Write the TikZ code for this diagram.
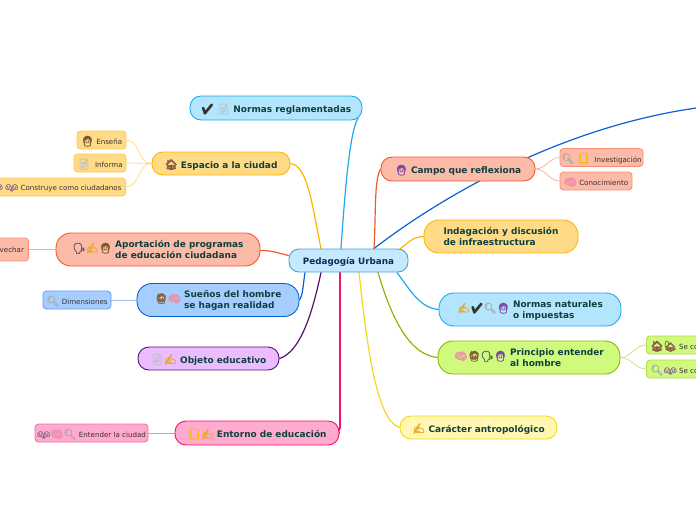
\documentclass[tikz,border=0pt]{standalone}
\usepackage{fontspec}
\setmainfont{DejaVu Sans}
\newfontfamily\emo[FakeBold=1.5]{Noto Emoji}
\usetikzlibrary{backgrounds}
\definecolor{tmain}{HTML}{0E3F3C}
\definecolor{troot}{HTML}{0C2C55}
\definecolor{tsub}{HTML}{3A3030}
\definecolor{fsky}{HTML}{B3E5FC}\definecolor{lsky}{HTML}{1EA9EE}
\definecolor{fora}{HTML}{FFDB88}\definecolor{lora}{HTML}{FFB400}
\definecolor{fred}{HTML}{FBBBA8}\definecolor{lred}{HTML}{F4582D}
\definecolor{fblu}{HTML}{A6CDFF}\definecolor{lblu}{HTML}{0A62D0}
\definecolor{fpur}{HTML}{EBBDFF}\definecolor{lpur}{HTML}{5A0F70}
\definecolor{fpin}{HTML}{FFAACF}\definecolor{lpin}{HTML}{F5106F}
\definecolor{fgre}{HTML}{D0FA7E}\definecolor{lgre}{HTML}{8DB600}
\definecolor{fyel}{HTML}{FFF7B2}\definecolor{lyel}{HTML}{F0D91E}
\definecolor{froot}{HTML}{C5E9FF}\definecolor{lroot}{HTML}{4A9ED8}
% emoji helpers
\newcommand{\emoM}[2]{\textcolor[HTML]{#1}{\emo\fontsize{10.4}{11}\selectfont #2}}
\newcommand{\eCheck}{\emoM{333333}{✔}}
\newcommand{\ePage}{\emoM{BCC3C9}{📄}}
\newcommand{\eHouse}{\emoM{8A5A44}{🏠}}
\newcommand{\eTeach}{\emoM{7A5A30}{👩}}
\newcommand{\eBrain}{\emoM{EE8FA8}{🧠}}
\newcommand{\eLens}{\emoM{A5ABB1}{🔍}}
\newcommand{\ePair}{\emoM{8A6A8A}{👫}}
\newcommand{\eHead}{\emoM{4A5560}{🗣}}
\newcommand{\eHand}{\emoM{E8A830}{✍}}
\newcommand{\eMan}{\emoM{8A6238}{🧔}}
\newcommand{\eBook}{\emoM{F5C400}{📒}}
\newcommand{\eRaise}{\emoM{7E4AA8}{👩}}
\newcommand{\eGarden}{\emoM{8A6A44}{🏡}}
\newcommand{\twoline}[2]{\begin{tabular}{@{}l@{}}#1\\#2\end{tabular}}
\newcommand{\dn}[1]{\raisebox{-1.2pt}[\height][\depth]{#1}}
\tikzset{
  x=1pt,y=-1pt,
  base/.style={rounded corners=#1,align=center,inner sep=0pt,font=\fontsize{8.95}{11}\selectfont\bfseries,text=tmain,line width=0.9pt},
  topic/.style n args={4}{base=11pt,draw=#1,fill=#2,minimum width=#3,minimum height=#4},
  big/.style n args={4}{base=15pt,draw=#1,fill=#2,minimum width=#3,minimum height=#4},
  sub/.style n args={4}{rounded corners=3.5pt,inner sep=0pt,font=\fontsize{7.1}{8}\selectfont,text=tsub,draw=#1!45!#2,fill=#2,line width=0.8pt,minimum width=#3,minimum height=#4},
  conn/.style={line width=1.2pt,line cap=round},
  subconn/.style={line width=0.7pt},
}
\begin{document}
\begin{tikzpicture}
\useasboundingbox (0,0) rectangle (696,520);
\clip (0,0) rectangle (696,520);
\node[base=10pt,draw=lroot,fill=froot,text=troot,minimum width=119pt,minimum height=23pt,font=\fontsize{8.8}{10}\selectfont\bfseries] (root) at (348.5,260.5) {\dn{Pedagogía Urbana}};
\coordinate (off) at (700,107.5);
% left
\node[topic={lsky}{fsky}{172pt}{24pt}] (nreg) at (276,108) {\dn{\eCheck\ \ePage\ Normas reglamentadas}};
\node[topic={lora}{fora}{138pt}{23pt}] (esp) at (221,163.5) {\dn{\eHouse\ Espacio a la ciudad}};
\node[sub={lora}{fora}{49pt}{18pt}] (ens) at (101.5,140) {\dn{\eTeach\ Enseña}};
\node[sub={lora}{fora}{52pt}{18pt}] (inf) at (100,163) {\dn{\ePage\ \ Informa}};
\node[sub={lora}{fora}{140pt}{18pt},anchor=east] (con) at (126,187) {\dn{\ePair\ \ePair\ Construye como ciudadanos}};
\node[big={lred}{fred}{204pt}{33pt}] (apo) at (158,249.5) {\eHead\eHand\eTeach\ \dn{\twoline{Aportación de programas}{de educación ciudadana}}};
\node[sub={lred}{fred}{50pt}{23pt},anchor=east] (apr) at (29,249.5) {\dn{Aprovechar}};
\node[big={lblu}{fblu}{162pt}{33pt}] (sue) at (218,300) {\eMan\eBrain\ \dn{\twoline{Sueños del hombre}{se hagan realidad}}};
\node[sub={lblu}{fblu}{68pt}{18pt}] (dim) at (77,300) {\dn{\eLens\ Dimensiones}};
\node[topic={lpur}{fpur}{141pt}{23pt}] (obj) at (208.5,358.5) {\dn{\ePage\eHand\ Objeto educativo}};
\node[topic={lpin}{fpin}{164pt}{24pt}] (ent) at (257,433) {\dn{\eBook\eHand\ Entorno de educación}};
\node[sub={lpin}{fpin}{113pt}{18pt}] (ciu) at (91.5,433) {\dn{\ePair\eBrain\eLens\ Entender la ciudad}};
% right
\node[topic={lred}{fred}{154pt}{24pt}] (cam) at (458,169) {\dn{\eRaise\ Campo que reflexiona}};
\node[sub={lred}{fred}{83pt}{18pt}] (inv) at (601.5,157.5) {\dn{\eLens\ \eBook\ \ Investigación}};
\node[sub={lred}{fred}{72pt}{18pt}] (cono) at (596,181) {\dn{\eBrain\ Conocimiento}};
\node[big={lora}{fora}{154pt}{33pt}] (ind) at (501,236.5) {\dn{\twoline{Indagación y discusión}{de infraestructura}}};
\node[big={lsky}{fsky}{182pt}{33pt}] (nnat) at (530,309.5) {\eHand\eCheck\eLens\eRaise\ \dn{\twoline{Normas naturales}{o impuestas}}};
\node[big={lgre}{fgre}{182pt}{33pt}] (pri) at (529,357.5) {\eBrain\eMan\eHead\eRaise\ \dn{\twoline{Principio entender}{al hombre}}};
\node[sub={lgre}{fgre}{86pt}{18pt},anchor=west] (sc1) at (646,345) {\dn{\makebox[78pt][l]{\eHouse\eGarden\ Se co}}};
\node[sub={lgre}{fgre}{86pt}{18pt},anchor=west] (sc2) at (646,369) {\dn{\makebox[78pt][l]{\eLens\ePair\ Se co}}};
\node[topic={lyel}{fyel}{157pt}{23pt}] (car) at (478.5,427.5) {\dn{\eHand\ Carácter antropológico}};
\begin{scope}[on background layer]
\draw[conn,lblu] ([xshift=25.5pt]root.north) .. controls (450,190) and (570,125) .. (off);
\draw[conn,lsky] ([xshift=-7.5pt]root.north) .. controls (345,190) and (350,130) .. ([xshift=82pt,yshift=2pt]nreg.south);
\draw[conn,lora] ([xshift=-27.5pt]root.north) .. controls (312,205) and (308,166) .. (esp.east);
\draw[conn,lred] ([yshift=5pt]root.west) .. controls (278,253) and (270,250) .. ([yshift=-1pt]apo.east);
\draw[conn,lblu] ([xshift=-43.5pt]root.south) .. controls (303,285) and (303,295) .. (sue.east);
\draw[conn,lpur] ([xshift=-27.5pt]root.south) .. controls (312,315) and (300,352) .. (obj.east);
\draw[conn,lpin,line width=1.7pt,rounded corners=5pt] ([xshift=-8.5pt]root.south) |- (ent.east);
\draw[conn,lyel] ([xshift=10.5pt]root.south) .. controls (366,335) and (375,420) .. (car.west);
\draw[conn,lgre] ([xshift=29.5pt]root.south) .. controls (392,320) and (410,355) .. (pri.west);
\draw[conn,lsky] ([xshift=48.5pt]root.south) .. controls (410,290) and (420,308) .. (nnat.west);
\draw[conn,lora] ([xshift=-8pt]root.north east) .. controls (408,243) and (412,237) .. (ind.west);
\draw[conn,lred] ([xshift=25.5pt]root.north) .. controls (376,215) and (374,180) .. (cam.west);
\draw[subconn,lora!50!white] (esp.west) to[out=180,in=0] (ens.east);
\draw[subconn,lora!50!white] (esp.west) to[out=180,in=0] (inf.east);
\draw[subconn,lora!50!white] (esp.west) to[out=180,in=0] (con.east);
\draw[subconn,lred!50!white] (apo.west) -- (apr.east);
\draw[subconn,lblu!40!white] (sue.west) -- (dim.east);
\draw[subconn,lpin!50!white] (ent.west) -- (ciu.east);
\draw[subconn,lred!50!white] (cam.east) to[out=0,in=180] (inv.west);
\draw[subconn,lred!50!white] (cam.east) to[out=0,in=180] (cono.west);
\draw[subconn,lgre!50!white] (pri.east) to[out=0,in=180] (sc1.west);
\draw[subconn,lgre!50!white] (pri.east) to[out=0,in=180] (sc2.west);
\end{scope}
\end{tikzpicture}
\end{document}
